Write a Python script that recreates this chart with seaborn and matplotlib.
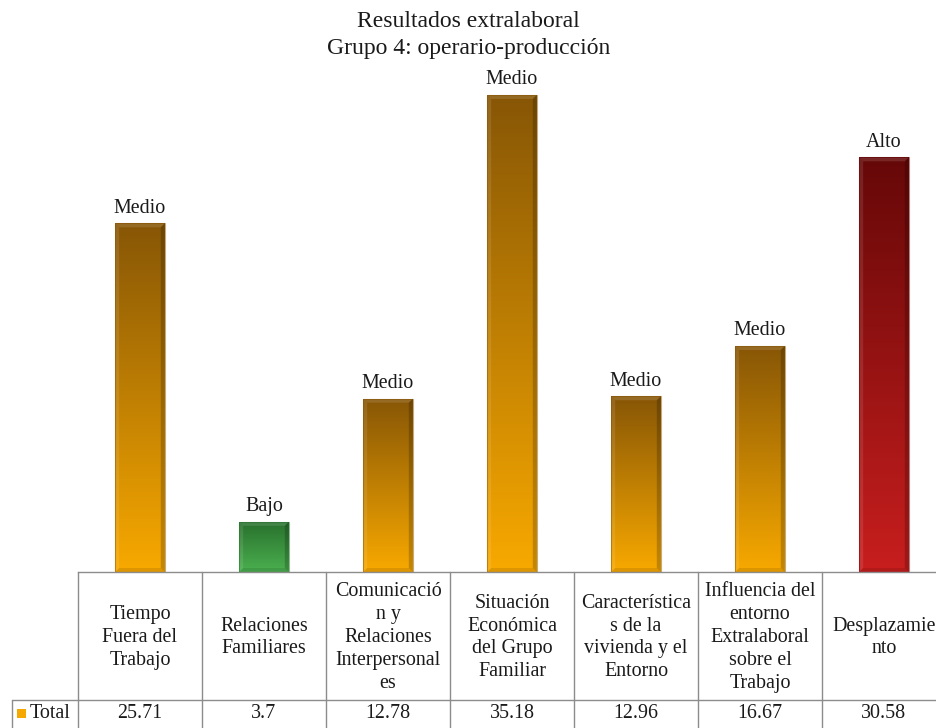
import numpy as np
import matplotlib
matplotlib.use("Agg")
import matplotlib.pyplot as plt
import matplotlib.transforms as mtransforms
from matplotlib.colors import LinearSegmentedColormap
from matplotlib.patches import Rectangle, Polygon
import seaborn as sns
import pandas as pd

# ---- data -------------------------------------------------------------
categories = [
    "Tiempo\nFuera del\nTrabajo",
    "Relaciones\nFamiliares",
    "Comunicació\nn y\nRelaciones\nInterpersonal\nes",
    "Situación\nEconómica\ndel Grupo\nFamiliar",
    "Característica\ns de la\nvivienda y el\nEntorno",
    "Influencia del\nentorno\nExtralaboral\nsobre el\nTrabajo",
    "Desplazamie\nnto",
]
values = [25.71, 3.7, 12.78, 35.18, 12.96, 16.67, 30.58]
value_labels = ["25.71", "3.7", "12.78", "35.18", "12.96", "16.67", "30.58"]
levels = ["Medio", "Bajo", "Medio", "Medio", "Medio", "Medio", "Alto"]
series_name = "Total"
title = "Resultados extralaboral\nGrupo 4: operario-producción"

# (top colour, bottom colour) of each risk level
level_gradients = {
    "Medio": ("#875606", "#f8a900"),
    "Bajo": ("#286f2d", "#4bb04f"),
    "Alto": ("#660808", "#c81e1e"),
}

# ---- style ------------------------------------------------------------
sns.set_style("white")
plt.rcParams["font.family"] = ["Liberation Serif", "DejaVu Serif"]
TEXT = "#1a1a1a"
GRID = "#8c8c8c"
FS = 14.4

W, H = 937, 728
fig = plt.figure(figsize=(W / 100, H / 100), dpi=100)

base_px, left_px, col_px = 572, 78, 124
ymax = 40
px_per_unit = 13.56
top_px = base_px - ymax * px_per_unit
ax = fig.add_axes([left_px / W, (H - base_px) / H,
                   len(values) * col_px / W, (base_px - top_px) / H])

df = pd.DataFrame({"cat": categories, "value": values, "level": levels})
palette = {k: v[1] for k, v in level_gradients.items()}
sns.barplot(data=df, x="cat", y="value", hue="level", palette=palette,
            width=0.4, dodge=False, legend=False, ax=ax, saturation=1)

ax.set_xlim(-0.5, len(values) - 0.5)
ax.set_ylim(0, ymax)
ax.set_xlabel("")
ax.set_ylabel("")
ax.set_xticks([])
ax.set_yticks([])
for side in ["left", "top", "right"]:
    ax.spines[side].set_visible(False)
ax.spines["bottom"].set_color(GRID)
ax.spines["bottom"].set_linewidth(1.0)

# ---- gradient fill and bevel on each bar ------------------------------
dx = 4 / col_px
dy = 4 / px_per_unit
grad = np.linspace(0, 1, 256).reshape(-1, 1)
for patch in list(ax.patches):
    h = patch.get_height()
    if not np.isfinite(h) or h <= 0:
        continue
    x0 = patch.get_x()
    w = patch.get_width()
    idx = int(round(x0 + w / 2))
    top_c, bot_c = level_gradients[levels[idx]]
    cmap = LinearSegmentedColormap.from_list("g", [bot_c, top_c])
    im = ax.imshow(grad, extent=[x0, x0 + w, 0, h], origin="lower",
                   aspect="auto", cmap=cmap, zorder=patch.get_zorder() + 0.1)
    im.set_clip_path(patch)
    z = patch.get_zorder() + 0.2
    x1 = x0 + w
    bevel = [
        ([(x0, 0), (x0 + dx, dy), (x0 + dx, h - dy), (x0, h)], "white", 0.10),
        ([(x1, 0), (x1 - dx, dy), (x1 - dx, h - dy), (x1, h)], "black", 0.20),
        ([(x0, h), (x0 + dx, h - dy), (x1 - dx, h - dy), (x1, h)], "white", 0.12),
        ([(x0, 0), (x0 + dx, dy), (x1 - dx, dy), (x1, 0)], "black", 0.10),
    ]
    for pts, col, a in bevel:
        ax.add_patch(Polygon(pts, closed=True, facecolor=col, alpha=a,
                             edgecolor="none", zorder=z))
    ax.add_patch(Rectangle((x0, 0), w, h, fill=False, edgecolor=top_c,
                           linewidth=0.8, alpha=0.5, zorder=z + 0.1))
    ax.annotate(levels[idx], (x0 + w / 2, h), xytext=(0, 4),
                textcoords="offset points", ha="center", va="bottom",
                fontsize=FS, color=TEXT)

ax.set_xlim(-0.5, len(values) - 0.5)
ax.set_ylim(0, ymax)

# ---- data table under the plot ----------------------------------------
trans = mtransforms.blended_transform_factory(ax.transData, fig.transFigure)


def fy(py):
    return 1 - py / H


row_px = 700
legend_left = -0.5 - (left_px - 12) / col_px
n = len(values)
for i in range(n + 1):
    ax.plot([i - 0.5, i - 0.5], [fy(base_px), fy(H + 5)], color=GRID,
            lw=1.0, transform=trans, clip_on=False)
ax.plot([legend_left, n - 0.5], [fy(row_px), fy(row_px)], color=GRID,
        lw=1.0, transform=trans, clip_on=False)
ax.plot([legend_left, legend_left], [fy(row_px), fy(H + 5)], color=GRID,
        lw=1.0, transform=trans, clip_on=False)

for i, (lab, val) in enumerate(zip(categories, value_labels)):
    ax.text(i, fy((base_px + row_px) / 2 + 1.5), lab, transform=trans,
            ha="center", va="center", fontsize=FS, color=TEXT,
            linespacing=1.28, clip_on=False)
    ax.text(i, fy(714), val, transform=trans, ha="center", va="center",
            fontsize=FS, color=TEXT, clip_on=False)

fig.add_artist(Rectangle((17.5 / W, fy(718)), 9 / W, 9 / H,
                         transform=fig.transFigure, facecolor="#f5a800",
                         edgecolor="none"))
fig.text(30 / W, fy(714), series_name, ha="left", va="center",
         fontsize=FS, color=TEXT)

fig.text(0.5, fy(35), title, ha="center", va="center", fontsize=17,
         color=TEXT, linespacing=1.36)

fig.savefig("out.png", dpi=100)
